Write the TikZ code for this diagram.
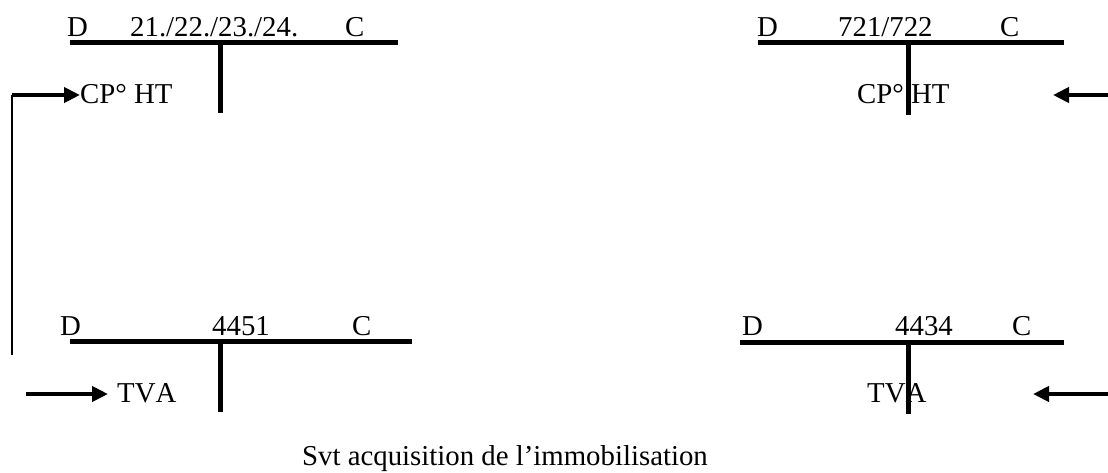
\documentclass[tikz,border=0pt]{standalone}
\usepackage{fontspec}
\setmainfont[Kerning=Off]{Liberation Serif}
\usetikzlibrary{arrows.meta}
\newcommand{\lblfont}{\fontsize{28.8}{32}\selectfont}
\tikzset{
  tline/.style={line width=5pt},
  thinline/.style={line width=2pt},
  arr/.style={line width=4.5pt,-{Triangle[length=16pt,width=15pt]}},
  lbl/.style={inner sep=0pt, anchor=base west, font=\lblfont}
}
\begin{document}
\begin{tikzpicture}[x=1pt,y=-1pt]
\useasboundingbox (0,0) rectangle (1108,472);
% top-left account
\coordinate (tlL) at (70,42); \coordinate (tlR) at (398,42);
\coordinate (tlT) at (220,42); \coordinate (tlB) at (220,113);
\draw[tline] (tlL) -- (tlR);
\draw[tline] (tlT) -- (tlB);
\node[lbl] (tlD) at (67,36) {D};
\node[lbl] (tlN) at (130,36) {21./22./23./24.};
\node[lbl] (tlC) at (345,36) {C};
\node[lbl] (cp1) at (80,103) {CP° HT};
% top-right account
\coordinate (trL) at (758,42); \coordinate (trR) at (1064,42);
\coordinate (trT) at (908,42); \coordinate (trB) at (908,115);
\draw[tline] (trL) -- (trR);
\draw[tline] (trT) -- (trB);
\node[lbl] (trD) at (757,36) {D};
\node[lbl] (trN) at (838,36) {721/722};
\node[lbl] (trC) at (1000,36) {C};
\node[lbl] (cp2) at (857,103) {CP° HT};
% bottom-left account
\coordinate (blL) at (70,341); \coordinate (blR) at (412,341);
\coordinate (blT) at (220,341); \coordinate (blB) at (220,412);
\draw[tline] (blL) -- (blR);
\draw[tline] (blT) -- (blB);
\node[lbl] (blD) at (60,335) {D};
\node[lbl] (blN) at (212,335) {4451};
\node[lbl] (blC) at (352,335) {C};
\node[lbl] (tva1) at (117,402) {TVA};
% bottom-right account
\coordinate (brL) at (740,342); \coordinate (brR) at (1064,342);
\coordinate (brT) at (908,342); \coordinate (brB) at (908,414);
\draw[tline] (brL) -- (brR);
\draw[tline] (brT) -- (brB);
\node[lbl] (brD) at (742,335) {D};
\node[lbl] (brN) at (895,335) {4434};
\node[lbl] (brC) at (1012,335) {C};
\node[lbl] (tva2) at (867,402) {TVA};
% arrows
\coordinate (vb) at (12,355);
\coordinate (vt) at (12,95);
\coordinate (cp1tip) at (80,95);
\draw[thinline] (vb) -- (vt);
\draw[arr] (vt) -- (cp1tip);
\coordinate (blS) at (26,394); \coordinate (blTip) at (108,394);
\draw[arr] (blS) -- (blTip);
\coordinate (trS) at (1108,95); \coordinate (trTip) at (1053,95);
\draw[arr] (trS) -- (trTip);
\coordinate (brS) at (1108,394); \coordinate (brTip) at (1033,394);
\draw[arr] (brS) -- (brTip);
% caption
\node[lbl] (cap) at (302,465) {Svt acquisition de l’immobilisation};
\end{tikzpicture}
\end{document}
